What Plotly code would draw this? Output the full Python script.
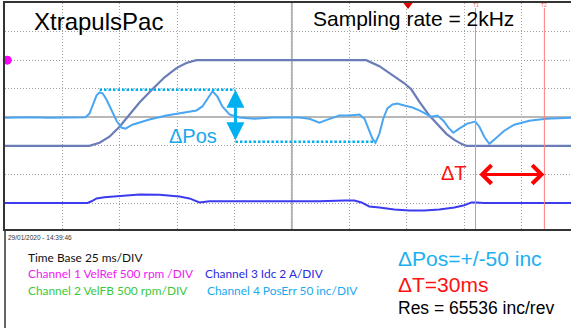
import plotly.graph_objects as go

# ---------------- data ----------------
# time in ms (25 ms / division), amplitudes in screen divisions
vel_time_ms = [0, 36.8, 41.2, 45.5, 49.9, 54.2, 58.6, 64.2, 69.5, 74.7, 79.0, 83.4,
               157.4, 163.1, 169.6, 174.0, 177.0, 180.5, 184.9, 189.2, 192.3, 195.8,
               198.8, 201.0, 246.6]
velref_div = [-1.0, -1.0, -0.89, -0.68, -0.33, 0.10, 0.52, 0.98, 1.40, 1.72, 1.90, 2.0,
              2.0, 1.79, 1.44, 1.19, 0.98, 0.55, 0.06, -0.33, -0.58, -0.79,
              -0.93, -1.0, -1.0]
velfb_div = [-1.0, -1.0, -0.89, -0.68, -0.33, 0.10, 0.52, 0.98, 1.40, 1.72, 1.90, 2.0,
             2.0, 1.79, 1.44, 1.19, 0.98, 0.55, 0.06, -0.33, -0.58, -0.79,
             -0.93, -1.0, -1.0]

poserr_time_ms = [0, 10.7, 19.4, 28.1, 35.1, 36.8, 38.5, 39.9, 41.2, 42.5, 44.2, 46.4,
                  48.6, 50.7, 52.5, 55.5, 62.9, 70.3, 77.3, 83.4, 86.0, 88.2, 90.4,
                  92.5, 94.7, 97.8, 102.1, 108.7, 116.5, 123.9, 128.3, 132.6, 137.0,
                  140.5, 145.7, 150.0, 154.4, 156.6, 158.3, 160.1, 161.4, 163.1, 164.8,
                  166.6, 168.8, 170.9, 174.0, 177.5, 180.5, 183.1, 185.7, 188.4, 191.0,
                  193.2, 195.3, 197.9, 201.4, 204.9, 206.7, 208.8, 211.0, 213.6, 217.5,
                  221.9, 228.4, 235.8, 246.6]
poserr_div = [-0.02, 0.0, -0.02, 0.0, 0.0, 0.13, 0.52, 0.77, 0.87, 0.84, 0.62, 0.24,
              -0.12, -0.36, -0.40, -0.26, -0.08, 0.06, 0.17, 0.24, 0.38, 0.66, 0.91,
              0.73, 0.38, 0.10, -0.01, -0.05, -0.01, -0.01, -0.01, -0.05, -0.19,
              -0.08, 0.06, 0.06, 0.10, -0.05, -0.40, -0.75, -0.89, -0.58, -0.05,
              0.31, 0.45, 0.48, 0.41, 0.34, 0.24, 0.13, 0.02, 0.06, -0.12,
              -0.36, -0.54, -0.40, -0.22, -0.15, -0.33, -0.68, -0.93, -0.75, -0.47,
              -0.26, -0.12, -0.05, -0.02]

idc_time_ms = [0, 35.9, 37.7, 39.9, 43.3, 49.9, 58.6, 67.3, 76.0, 80.4, 83.0, 84.7,
               89.1, 102.1, 119.5, 137.0, 147.9, 152.2, 155.3, 158.7, 163.1, 169.6,
               176.2, 182.7, 189.2, 195.8, 200.1, 203.2, 205.3, 208.8, 246.6]
idc_div = [-3.0, -3.0, -2.94, -2.84, -2.80, -2.75, -2.70, -2.71, -2.77, -2.84, -2.91, -2.98,
           -2.94, -2.94, -2.94, -2.94, -2.91, -2.91, -2.98, -3.12, -3.16, -3.23,
           -3.26, -3.26, -3.23, -3.16, -3.08, -2.98, -2.98, -3.0, -3.0]

cursor_t_ms = [205.0, 235.0]
cursor_labels = ["T1", "T2"]
dpos_levels = [0.96, -0.86]          # dotted ΔPos limits (divisions)
dpos_upper_span_ms = [41.2, 100.4]
dpos_lower_span_ms = [100.4, 160.9]
dpos_arrow_ms = 100.4
dt_arrow_level = -2.0
trigger_ms = 174.8
ch1_marker_level = 2.0

X_RANGE = [0, 246.6]
Y_RANGE = [-3.91, 4.0]

W, H = 571, 328
ML, MR, MT, MB = 5, 0, 3, 99
PW, PH = W - ML - MR, H - MT - MB


def fx(X):
    return (X - ML) / PW


def fy(Y):
    return (H - MB - Y) / PH


fig = go.Figure()

# traces
fig.add_trace(go.Scatter(x=vel_time_ms, y=velref_div, mode="lines",
                         line=dict(color="#ff00ff", width=1), name="VelRef"))
fig.add_trace(go.Scatter(x=vel_time_ms, y=velfb_div, mode="lines",
                         line=dict(color="#6a7db8", width=2.2), name="VelFB"))
fig.add_trace(go.Scatter(x=idc_time_ms, y=idc_div, mode="lines",
                         line=dict(color="#3b3bf0", width=2), name="Idc"))
fig.add_trace(go.Scatter(x=poserr_time_ms, y=poserr_div, mode="lines",
                         line=dict(color="#4aa6f2", width=2), name="PosErr"))

# ΔPos dotted limit lines
DP_COL = "#00b0f0"
fig.add_trace(go.Scatter(x=dpos_upper_span_ms, y=[dpos_levels[0]] * 2, mode="lines",
                         line=dict(color=DP_COL, width=2.5, dash="2.5px,2px")))
fig.add_trace(go.Scatter(x=dpos_lower_span_ms, y=[dpos_levels[1]] * 2, mode="lines",
                         line=dict(color=DP_COL, width=2.5, dash="2.5px,2px")))

# markers: channel 1 marker and trigger marker
fig.add_trace(go.Scatter(x=[X_RANGE[0] + 1.0], y=[ch1_marker_level], mode="markers",
                         marker=dict(symbol="circle", size=9, color="#ff00ff"),
                         cliponaxis=False))
fig.add_trace(go.Scatter(x=[trigger_ms + 0.8], y=[Y_RANGE[1] - 0.05], mode="markers",
                         marker=dict(symbol="triangle-down", size=9, color="#e00000"),
                         cliponaxis=False))

shapes = [
    dict(type="line", xref="x", yref="paper", x0=125, x1=125, y0=0, y1=1,
         line=dict(color="#b8b8b8", width=2), layer="below"),
    dict(type="line", xref="paper", yref="paper", x0=0, x1=0, y0=fy(H), y1=0,
         line=dict(color="#333", width=1.5)),
]
for t in cursor_t_ms:
    shapes.append(dict(type="line", xref="x", yref="paper", x0=t, x1=t,
                       y0=0, y1=fy(8), line=dict(color="#ff8080", width=1)))

annotations = []
# arrows
annotations.append(dict(x=dpos_arrow_ms, y=dpos_levels[0], ax=dpos_arrow_ms, ay=dpos_levels[1],
                        xref="x", yref="y", axref="x", ayref="y", text="", showarrow=True,
                        arrowhead=2, startarrowhead=2, arrowside="end+start",
                        arrowsize=1.2, startarrowsize=1.2, arrowwidth=3, arrowcolor=DP_COL,
                        standoff=0, startstandoff=0))
annotations.append(dict(x=cursor_t_ms[1], y=dt_arrow_level, ax=cursor_t_ms[0] + 1, ay=dt_arrow_level,
                        xref="x", yref="y", axref="x", ayref="y", text="", showarrow=True,
                        arrowhead=4, startarrowhead=4, arrowside="end+start",
                        arrowsize=1.2, startarrowsize=1.2, arrowwidth=3, arrowcolor="#ff0000",
                        standoff=0, startstandoff=0))


def txt(s, X, Y, size, color, family="Liberation Sans, Arial", anchor="left"):
    annotations.append(dict(text=s, x=fx(X), y=fy(Y), xref="paper", yref="paper",
                            xanchor=anchor, yanchor="middle", showarrow=False,
                            font=dict(size=size, color=color, family=family)))


for t, lab in zip(cursor_t_ms, cursor_labels):
    annotations.append(dict(text=lab, x=t, y=fy(5), xref="x", yref="paper", xanchor="center",
                            yanchor="middle", showarrow=False,
                            font=dict(size=5, color="#ff6060", family="Liberation Sans")))

txt("XtrapulsPac", 32, 21, 24, "#000")
txt("Sampling rate = 2kHz", 311, 18, 21, "#000")
txt("ΔPos", 167, 136, 20, "#1aa8e8")
txt("ΔT", 439, 173, 20, "#ff1010")
txt("29/01/2020 - 14:39:46", 6, 237, 6.5, "#333", family="Liberation Sans Narrow, Liberation Sans")

LF = "Lato, Liberation Sans"
LS = 11.9
txt("Time Base 25 ms/DIV", 26, 257, LS, "#111", LF)
txt("Channel 1 VelRef 500 rpm /DIV", 26, 273, LS, "#f020f0", LF)
txt("Channel 3 Idc 2 A/DIV", 203, 273, LS, "#2a2ae0", LF)
txt("Channel 2 VelFB 500 rpm/DIV", 26, 290, LS, "#3cc83c", LF)
txt("Channel 4 PosErr 50 inc/DIV", 205, 290, LS, "#1aa8ee", LF)

txt("ΔPos=+/-50 inc", 396, 258, 21, "#1ab0f0")
txt("ΔT=30ms", 396, 284, 21, "#ff1010")
txt("Res = 65536 inc/rev", 396, 308, 17.5, "#000")

GRID = dict(showgrid=True, gridcolor="#a0a0a0", gridwidth=1, griddash="1px,2px",
            showticklabels=False, ticks="", showline=True, linecolor="#333")

fig.update_layout(
    width=W, height=H, margin=dict(l=ML, r=MR, t=MT, b=MB, pad=0),
    paper_bgcolor="white", plot_bgcolor="white", showlegend=False,
    xaxis=dict(range=X_RANGE, dtick=25, tick0=0, mirror=True, linewidth=1.5,
               zeroline=False, fixedrange=True, **GRID),
    yaxis=dict(range=Y_RANGE, dtick=1, tick0=0, linewidth=1.5, zeroline=True,
               zerolinecolor="#b8b8b8", zerolinewidth=2, fixedrange=True, **GRID),
    shapes=shapes, annotations=annotations,
)

fig.write_html("out.html", config={"displayModeBar": False},
               post_script="document.body.style.margin='0';document.body.style.overflow='hidden';")
